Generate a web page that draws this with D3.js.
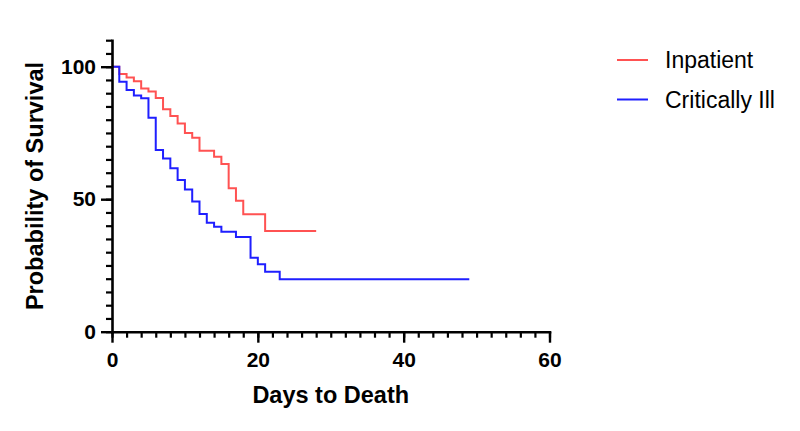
<!DOCTYPE html>
<html>
<head>
<meta charset="utf-8">
<script src="https://cdn.jsdelivr.net/npm/d3@7"></script>
<style>
  html, body { margin: 0; padding: 0; background: #fff; }
  svg { display: block; font-family: "Liberation Sans", Arial, sans-serif; }
</style>
</head>
<body>
<svg id="chart" width="800" height="431"></svg>
<script>
// Kaplan-Meier steps (day, % surviving)
const inpatientDays = [0, 1, 2, 3, 4, 5, 6, 7, 8, 9, 10, 11, 12, 14, 15, 16, 17, 18, 21];
const inpatientSurv = [100, 97.2, 95.9, 94.5, 91.8, 90.6, 88.2, 83.9, 81.4, 78.6, 75.0, 73.2, 68.3, 66.0, 63.3, 54.1, 49.4, 44.3, 38.0];
const inpatientEnd = 28;

const criticalDays = [0, 1, 2, 3, 4, 5, 6, 7, 8, 9, 10, 11, 12, 13, 14, 15, 17, 19, 20, 21, 23];
const criticalSurv = [100, 94.3, 91.2, 89.1, 88.1, 80.7, 68.6, 65.4, 61.7, 57.2, 53.7, 49.1, 44.4, 41.1, 39.6, 37.7, 35.7, 27.9, 25.5, 22.6, 19.8];
const criticalEnd = 49;

const seriesNames = ["Inpatient", "Critically Ill"];
const seriesColors = ["#ff5252", "#1f1fff"];

const xMajor = [0, 20, 40, 60];
const yMajor = [0, 50, 100];

const svg = d3.select("#chart");

const x = d3.scaleLinear().domain([0, 60]).range([112, 549.5]);
const y = d3.scaleLinear().domain([0, 110]).range([331.7, 40.2]);

function toPoints(days, surv, end) {
  const pts = days.map((d, i) => ({ d, s: surv[i] }));
  pts.push({ d: end, s: surv[surv.length - 1] });
  return pts;
}

const series = [
  toPoints(inpatientDays, inpatientSurv, inpatientEnd),
  toPoints(criticalDays, criticalSurv, criticalEnd)
];

const line = d3.line()
  .x(p => x(p.d))
  .y(p => y(p.s))
  .curve(d3.curveStepAfter);

// curves first, axes on top
svg.selectAll(".km")
  .data(series)
  .join("path")
  .attr("class", "km")
  .attr("fill", "none")
  .attr("stroke", (d, i) => seriesColors[i])
  .attr("stroke-width", 2)
  .attr("d", line);

// minor ticks
svg.append("g")
  .attr("transform", `translate(0,${y(0)})`)
  .call(d3.axisBottom(x).tickValues(d3.range(0, 61, 2)).tickSize(6).tickSizeOuter(0).tickFormat(""))
  .call(g => g.select(".domain").remove())
  .selectAll("line").attr("stroke", "#000").attr("stroke-width", 2.2);

svg.append("g")
  .attr("transform", `translate(${x(0)},0)`)
  .call(d3.axisLeft(y).tickValues(d3.range(0, 111, 5)).tickSize(6).tickSizeOuter(0).tickFormat(""))
  .call(g => g.select(".domain").remove())
  .selectAll("line").attr("stroke", "#000").attr("stroke-width", 2.2);

// major ticks + labels
const xAxis = svg.append("g")
  .attr("transform", `translate(0,${y(0)})`)
  .call(d3.axisBottom(x).tickValues(xMajor).tickSize(11).tickSizeOuter(0).tickPadding(9));

const yAxis = svg.append("g")
  .attr("transform", `translate(${x(0)},0)`)
  .call(d3.axisLeft(y).tickValues(yMajor).tickSize(11).tickSizeOuter(0).tickPadding(5));

[xAxis, yAxis].forEach(g => {
  g.select(".domain").attr("stroke", "#000").attr("stroke-width", 2.6).attr("stroke-linecap", "square");
  g.selectAll("line").attr("stroke", "#000").attr("stroke-width", 2.4);
  g.selectAll("text")
    .attr("fill", "#000")
    .style("font-size", "21px")
    .style("font-weight", "bold")
    .style("font-family", "'Liberation Sans', Arial, sans-serif");
});

// axis titles
svg.append("text")
  .attr("x", (x(0) + x(60)) / 2)
  .attr("y", 403)
  .attr("text-anchor", "middle")
  .style("font-size", "23.5px")
  .style("font-weight", "bold")
  .text("Days to Death");

svg.append("text")
  .attr("transform", `translate(43,186) rotate(-90)`)
  .attr("text-anchor", "middle")
  .style("font-size", "23.5px")
  .style("font-weight", "bold")
  .text("Probability of Survival");

// legend
const legend = svg.append("g").attr("transform", "translate(617,60)");
const item = legend.selectAll("g")
  .data(seriesNames)
  .join("g")
  .attr("transform", (d, i) => `translate(0,${i * 39.5})`);

item.append("line")
  .attr("x1", 0).attr("x2", 31)
  .attr("y1", 0).attr("y2", 0)
  .attr("stroke", (d, i) => seriesColors[i])
  .attr("stroke-width", 2);

item.append("text")
  .attr("x", 48)
  .attr("y", 8)
  .style("font-size", "23px")
  .attr("fill", "#000")
  .text(d => d);
</script>
</body>
</html>
